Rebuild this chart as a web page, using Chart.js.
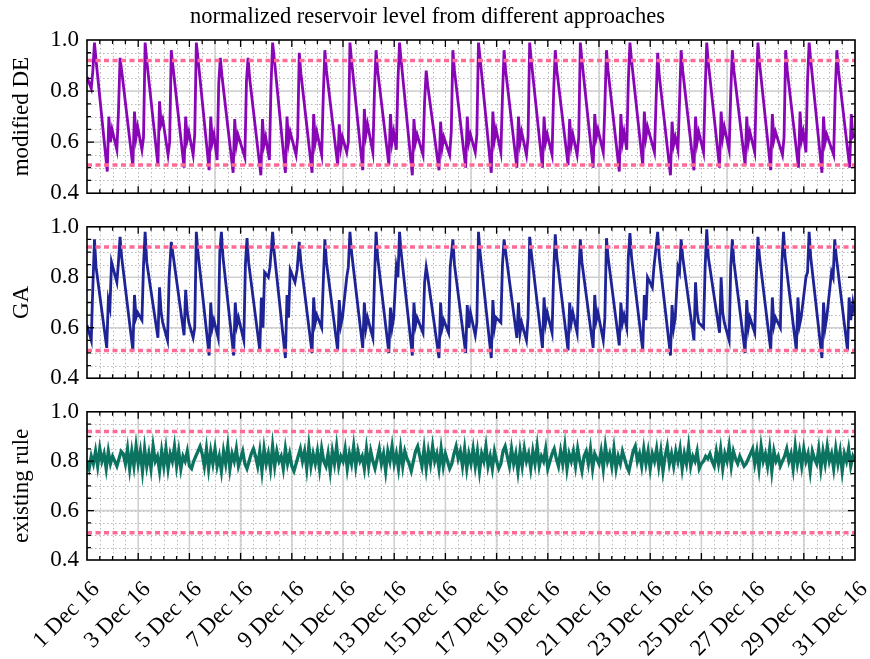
<!DOCTYPE html>
<html>
<head>
<meta charset="utf-8">
<script src="https://cdn.jsdelivr.net/npm/chart.js@4.4.1/dist/chart.umd.min.js"></script>
<style>
  html, body { margin: 0; padding: 0; background: #fff; }
  #wrap { position: relative; width: 870px; height: 659px; }
  .panel { position: absolute; left: 0; width: 870px; }
</style>
</head>
<body>
<div id="wrap">
  <div class="panel" style="top:0;height:215px"><canvas id="c1"></canvas></div>
  <div class="panel" style="top:205px;height:195px"><canvas id="c2"></canvas></div>
  <div class="panel" style="top:390px;height:269px"><canvas id="c3"></canvas></div>
</div>
<script>
// hours since 1 Dec 16 00:00, normalized level
let deHours = [
  0, 4, 5.5, 7, 8.5, 19, 20.5, 22, 23.5,
  28, 29.5, 31, 32.5, 43, 44.5, 46, 47.5,
  51.5, 53, 54.5, 56, 66.5, 68, 69.5, 71,
  76, 77.5, 79, 80.5, 91, 92.5, 94, 95.5,
  99.5, 101, 102.5, 104, 114.5, 116, 117.5, 119,
  122, 123.5, 125, 126.5, 137, 138.5, 140, 141.5,
  148, 149.5, 151, 152.5, 163, 164.5, 166, 167.5,
  171, 172.5, 174, 175.5, 186, 187.5, 189, 190.5,
  196, 197.5, 199, 200.5, 211, 212.5, 214, 215.5,
  220, 221.5, 223, 224.5, 235, 236.5, 238, 239.5,
  243.5, 245, 246.5, 248, 258.5, 260, 261.5, 263,
  268, 269.5, 271, 272.5, 283, 284.5, 286, 287.5,
  290, 291.5, 293, 294.5, 305, 306.5, 308, 309.5,
  315, 316.5, 318, 319.5, 330, 331.5, 333, 334.5,
  340, 341.5, 343, 344.5, 355, 356.5, 358, 359.5,
  364, 365.5, 367, 368.5, 379, 380.5, 382, 383.5,
  388, 389.5, 391, 392.5, 403, 404.5, 406, 407.5,
  412, 413.5, 415, 416.5, 427, 428.5, 430, 431.5,
  436, 437.5, 439, 440.5, 451, 452.5, 454, 455.5,
  459.5, 461, 462.5, 464, 474.5, 476, 477.5, 479,
  484, 485.5, 487, 488.5, 499, 500.5, 502, 503.5,
  506, 507.5, 509, 510.5, 521, 522.5, 524, 525.5,
  532, 533.5, 535, 536.5, 547, 548.5, 550, 551.5,
  554, 555.5, 557, 558.5, 569, 570.5, 572, 573.5,
  578, 579.5, 581, 582.5, 593, 594.5, 596, 597.5,
  602, 603.5, 605, 606.5, 617, 618.5, 620, 621.5,
  626, 627.5, 629, 630.5, 641, 642.5, 644, 645.5,
  652, 653.5, 655, 656.5, 667, 668.5, 670, 671.5,
  674, 675.5, 677, 678.5, 689, 690.5, 692, 693.5,
  700, 701.5, 703, 704.5, 715, 716.5, 718, 720
];
let deLevel = [
  0.855, 0.81, 0.88, 0.99, 0.92, 0.485, 0.70, 0.60, 0.65,
  0.57, 0.72, 0.93, 0.88, 0.505, 0.72, 0.62, 0.66,
  0.57, 0.62, 0.99, 0.92, 0.51, 0.76, 0.67, 0.69,
  0.55, 0.60, 0.96, 0.90, 0.50, 0.70, 0.61, 0.64,
  0.55, 0.63, 0.99, 0.93, 0.49, 0.70, 0.60, 0.63,
  0.53, 0.83, 0.93, 0.86, 0.48, 0.69, 0.59, 0.63,
  0.54, 0.84, 0.93, 0.85, 0.47, 0.69, 0.59, 0.62,
  0.53, 0.82, 0.99, 0.93, 0.48, 0.70, 0.60, 0.64,
  0.55, 0.62, 0.95, 0.87, 0.48, 0.71, 0.60, 0.64,
  0.55, 0.78, 0.96, 0.88, 0.51, 0.67, 0.58, 0.62,
  0.56, 0.60, 0.99, 0.92, 0.49, 0.73, 0.63, 0.67,
  0.56, 0.80, 0.96, 0.88, 0.51, 0.71, 0.60, 0.64,
  0.57, 0.84, 0.99, 0.92, 0.47, 0.69, 0.60, 0.63,
  0.55, 0.76, 0.88, 0.82, 0.49, 0.68, 0.58, 0.62,
  0.55, 0.64, 0.96, 0.88, 0.50, 0.70, 0.60, 0.63,
  0.56, 0.63, 0.99, 0.93, 0.48, 0.72, 0.61, 0.65,
  0.56, 0.78, 0.96, 0.88, 0.50, 0.70, 0.60, 0.64,
  0.55, 0.62, 0.99, 0.92, 0.50, 0.70, 0.60, 0.63,
  0.55, 0.80, 0.96, 0.88, 0.51, 0.69, 0.59, 0.63,
  0.55, 0.62, 0.99, 0.92, 0.50, 0.71, 0.62, 0.65,
  0.56, 0.74, 0.96, 0.88, 0.485, 0.71, 0.60, 0.64,
  0.57, 0.84, 0.99, 0.92, 0.51, 0.72, 0.62, 0.66,
  0.56, 0.76, 0.95, 0.86, 0.47, 0.68, 0.59, 0.62,
  0.57, 0.76, 0.96, 0.88, 0.49, 0.70, 0.60, 0.64,
  0.56, 0.80, 0.99, 0.91, 0.50, 0.72, 0.62, 0.66,
  0.57, 0.79, 0.96, 0.88, 0.51, 0.70, 0.60, 0.64,
  0.56, 0.82, 0.99, 0.91, 0.49, 0.71, 0.61, 0.64,
  0.55, 0.62, 0.96, 0.88, 0.50, 0.72, 0.61, 0.64,
  0.56, 0.84, 0.99, 0.92, 0.48, 0.70, 0.60, 0.63,
  0.55, 0.80, 0.96, 0.88, 0.50, 0.71, 0.62, 0.63
];

let gaHours = [
  0, 4, 5, 7, 8.5, 18.5, 20, 21.5, 23,
  28, 29.5, 31, 32.5, 43, 44.5, 46, 47.5,
  51.5, 53, 54.5, 56, 66.5, 68, 69.5, 71,
  75.5, 77, 79, 81, 91, 92.5, 94, 95.5,
  99.5, 101, 102.5, 104, 114.5, 116, 117.5, 119,
  123, 124.5, 126, 127.5, 137.5, 139, 140.5, 142,
  147, 148.5, 150, 151.5, 162, 163.5, 165, 166.5,
  170, 171.5, 174, 175.5, 186, 187.5, 189, 190.5,
  195, 197, 199, 200.5, 211, 212.5, 214, 215.5,
  220, 221.5, 223, 224.5, 235, 236.5, 238, 239.5,
  243.5, 245, 246.5, 248, 258.5, 260, 261.5, 263,
  268, 269.5, 271, 272.5, 283, 284.5, 286, 287.5,
  290, 291.5, 293, 294.5, 305, 306.5, 308, 309.5,
  315, 316.5, 318, 319.5, 330, 331.5, 333, 334.5,
  339, 340.5, 343, 344.5, 355, 356.5, 358, 359.5,
  364, 365.5, 367, 368.5, 379, 380.5, 382, 383.5,
  388, 389.5, 391, 392.5, 403, 404.5, 406, 407.5,
  412, 413.5, 415, 416.5, 427, 428.5, 430, 431.5,
  436, 437.5, 439, 440.5, 451, 452.5, 454, 455.5,
  459.5, 461, 462.5, 464, 474.5, 476, 477.5, 479,
  484, 485.5, 487, 488.5, 499, 500.5, 502, 503.5,
  506, 507.5, 509, 510.5, 521, 522.5, 524, 525.5,
  530, 531.5, 535, 536.5, 547, 548.5, 550, 551.5,
  554, 555.5, 557, 558.5, 569, 570.5, 572, 573.5,
  578, 579.5, 581, 582.5, 593, 594.5, 596, 597.5,
  602, 603.5, 605, 606.5, 617, 618.5, 620, 621.5,
  626, 627.5, 629, 630.5, 641, 642.5, 644, 645.5,
  650, 651.5, 653, 654.5, 665, 666.5, 668, 669.5,
  674, 675.5, 677, 678.5, 689, 690.5, 692, 693.5,
  698, 699.5, 701, 702.5, 713, 714.5, 716, 718, 720
];
let gaLevel = [
  0.61, 0.55, 0.70, 0.95, 0.84, 0.52, 0.71, 0.68, 0.86,
  0.78, 0.86, 0.96, 0.88, 0.51, 0.73, 0.64, 0.66,
  0.63, 0.85, 0.98, 0.86, 0.56, 0.76, 0.66, 0.62,
  0.55, 0.80, 0.94, 0.88, 0.57, 0.75, 0.66, 0.62,
  0.56, 0.60, 0.98, 0.90, 0.49, 0.70, 0.60, 0.63,
  0.56, 0.90, 0.98, 0.88, 0.49, 0.70, 0.61, 0.64,
  0.55, 0.85, 0.955, 0.86, 0.51, 0.72, 0.60, 0.82,
  0.80, 0.84, 0.98, 0.90, 0.48, 0.73, 0.64, 0.83,
  0.78, 0.83, 0.94, 0.86, 0.50, 0.72, 0.62, 0.65,
  0.60, 0.78, 0.95, 0.86, 0.51, 0.71, 0.61, 0.64,
  0.80, 0.84, 0.98, 0.90, 0.52, 0.70, 0.60, 0.64,
  0.56, 0.79, 0.98, 0.88, 0.50, 0.68, 0.60, 0.64,
  0.84, 0.80, 0.98, 0.90, 0.49, 0.70, 0.61, 0.64,
  0.58, 0.78, 0.84, 0.80, 0.48, 0.70, 0.60, 0.63,
  0.58, 0.84, 0.95, 0.85, 0.50, 0.69, 0.60, 0.66,
  0.57, 0.62, 0.98, 0.90, 0.48, 0.71, 0.60, 0.64,
  0.62, 0.85, 0.95, 0.90, 0.56, 0.70, 0.58, 0.62,
  0.55, 0.64, 0.96, 0.90, 0.52, 0.72, 0.62, 0.66,
  0.58, 0.82, 0.97, 0.88, 0.51, 0.70, 0.62, 0.66,
  0.58, 0.80, 0.95, 0.86, 0.52, 0.73, 0.63, 0.66,
  0.55, 0.64, 0.955, 0.88, 0.53, 0.70, 0.62, 0.65,
  0.60, 0.88, 0.975, 0.88, 0.51, 0.73, 0.63, 0.80,
  0.76, 0.84, 0.98, 0.88, 0.49, 0.69, 0.60, 0.64,
  0.84, 0.82, 0.95, 0.88, 0.55, 0.78, 0.66, 0.62,
  0.60, 0.84, 0.99, 0.88, 0.58, 0.80, 0.66, 0.62,
  0.55, 0.84, 0.95, 0.86, 0.50, 0.71, 0.60, 0.64,
  0.58, 0.80, 0.96, 0.88, 0.51, 0.72, 0.61, 0.64,
  0.60, 0.86, 0.98, 0.88, 0.51, 0.72, 0.61, 0.64,
  0.80, 0.82, 0.98, 0.88, 0.48, 0.70, 0.60, 0.64,
  0.82, 0.80, 0.95, 0.88, 0.51, 0.72, 0.63, 0.70, 0.65
];

// existing rule, one value every 2 hours
let ruleStepHours = 2;
let ruleLevel = [
  0.80,0.77,0.82,0.79,0.84,0.78,0.85,0.80,0.83,0.77,0.84,0.79,
  0.82,0.80,0.78,0.81,0.84,0.83,0.79,0.85,0.77,0.84,0.78,0.86,
  0.79,0.84,0.76,0.85,0.78,0.83,0.77,0.86,0.80,0.82,0.76,0.84,
  0.78,0.85,0.77,0.83,0.80,0.86,0.78,0.84,0.77,0.82,0.80,0.84,
  0.78,0.77,0.80,0.82,0.84,0.86,0.83,0.78,0.85,0.77,0.84,0.79,
  0.85,0.78,0.82,0.76,0.84,0.79,0.86,0.77,0.83,0.80,0.85,0.78,
  0.81,0.84,0.79,0.77,0.80,0.83,0.85,0.82,0.78,0.84,0.76,0.85,
  0.79,0.83,0.77,0.86,0.78,0.84,0.80,0.82,0.77,0.85,0.79,0.83,
  0.78,0.76,0.79,0.82,0.85,0.80,0.84,0.77,0.86,0.78,0.83,0.79,
  0.84,0.77,0.85,0.80,0.78,0.83,0.76,0.84,0.79,0.86,0.78,0.82,
  0.80,0.85,0.77,0.83,0.79,0.86,0.78,0.84,0.80,0.82,0.77,0.85,
  0.78,0.84,0.80,0.77,0.81,0.85,0.79,0.83,0.76,0.84,0.80,0.86,
  0.79,0.83,0.77,0.85,0.78,0.84,0.81,0.79,0.76,0.80,0.84,0.86,
  0.82,0.78,0.85,0.77,0.84,0.79,0.86,0.80,0.83,0.77,0.85,0.78,
  0.83,0.80,0.77,0.79,0.83,0.86,0.81,0.84,0.78,0.85,0.77,0.83,
  0.79,0.85,0.78,0.84,0.76,0.83,0.80,0.86,0.78,0.82,0.77,0.84,
  0.80,0.77,0.79,0.84,0.86,0.82,0.78,0.85,0.79,0.83,0.76,0.84,
  0.78,0.85,0.80,0.83,0.77,0.84,0.79,0.86,0.78,0.82,0.80,0.85,
  0.77,0.80,0.83,0.85,0.81,0.78,0.84,0.79,0.86,0.77,0.83,0.80,
  0.84,0.78,0.85,0.80,0.76,0.82,0.84,0.79,0.85,0.77,0.83,0.81,
  0.79,0.84,0.77,0.86,0.80,0.83,0.78,0.85,0.77,0.82,0.79,0.84,
  0.81,0.78,0.76,0.80,0.84,0.86,0.80,0.83,0.78,0.85,0.79,0.84,
  0.77,0.83,0.80,0.85,0.78,0.84,0.76,0.82,0.86,0.79,0.83,0.78,
  0.84,0.80,0.85,0.77,0.83,0.79,0.86,0.78,0.82,0.80,0.84,0.77,
  0.79,0.80,0.82,0.81,0.83,0.80,0.78,0.84,0.79,0.85,0.77,0.83,
  0.80,0.86,0.78,0.84,0.81,0.79,0.82,0.80,0.78,0.79,0.81,0.83,
  0.85,0.79,0.84,0.77,0.86,0.80,0.83,0.78,0.85,0.76,0.84,0.80,
  0.82,0.78,0.80,0.82,0.85,0.80,0.83,0.77,0.86,0.79,0.84,0.78,
  0.85,0.80,0.83,0.76,0.84,0.81,0.79,0.85,0.77,0.84,0.79,0.86,
  0.80,0.83,0.77,0.85,0.79,0.84,0.76,0.83,0.80,0.85,0.78,0.82,
  0.80
];

let upperLimit = 0.92;
let lowerLimit = 0.51;
let labelHours = [0, 48, 96, 144, 192, 240, 288, 336, 384, 432, 480, 528, 576, 624, 672, 720];
let majorHoursTop = [120, 240, 360, 480, 600, 720];
let yTicks = [0.4, 0.6, 0.8, 1.0];

const serif = "'Liberation Serif', 'Times New Roman', serif";
const pink = '#ff6b96';

function pts(hours, vals) {
    return hours.map((h, i) => ({x: h, y: vals[i]}));
}

// grid lines and inward ticks, drawn from the chart's own scales
const framePlugin = {
    id: 'frame',
    beforeDatasetsDraw(chart, args, opts) {
        let {ctx, chartArea: a} = chart;
        let xs = chart.scales.x, ys = chart.scales.y;
        ctx.save();
        ctx.strokeStyle = '#b8b8b8';
        ctx.lineWidth = 1;
        ctx.setLineDash([1.5, 2.5]);
        for (let h = 12; h < 720; h += 12) {
            let px = Math.round(xs.getPixelForValue(h)) + 0.5;
            ctx.beginPath(); ctx.moveTo(px, a.top); ctx.lineTo(px, a.bottom); ctx.stroke();
        }
        for (let k = 1; k < 12; k++) {
            let py = Math.round(ys.getPixelForValue(0.4 + k * 0.05)) + 0.5;
            ctx.beginPath(); ctx.moveTo(a.left, py); ctx.lineTo(a.right, py); ctx.stroke();
        }
        ctx.setLineDash([]);
        ctx.strokeStyle = '#d0d0d0';
        ctx.lineWidth = 1.6;
        opts.majorX.forEach(h => {
            let px = xs.getPixelForValue(h);
            ctx.beginPath(); ctx.moveTo(px, a.top); ctx.lineTo(px, a.bottom); ctx.stroke();
        });
        [0.6, 0.8].forEach(v => {
            let py = ys.getPixelForValue(v);
            ctx.beginPath(); ctx.moveTo(a.left, py); ctx.lineTo(a.right, py); ctx.stroke();
        });
        ctx.restore();
    },
    afterDatasetsDraw(chart) {
        let {ctx, chartArea: a} = chart;
        let xs = chart.scales.x, ys = chart.scales.y;
        ctx.save();
        ctx.strokeStyle = '#000';
        ctx.lineWidth = 1.3;
        ctx.beginPath();
        for (let h = 12; h < 720; h += 12) {
            let px = xs.getPixelForValue(h);
            let len = h % 48 === 0 ? 7 : 4;
            ctx.moveTo(px, a.bottom); ctx.lineTo(px, a.bottom - len);
            ctx.moveTo(px, a.top); ctx.lineTo(px, a.top + len);
        }
        for (let k = 1; k < 12; k++) {
            let py = ys.getPixelForValue(0.4 + k * 0.05);
            let len = k % 4 === 0 ? 7 : 4;
            ctx.moveTo(a.left, py); ctx.lineTo(a.left + len, py);
            ctx.moveTo(a.right, py); ctx.lineTo(a.right - len, py);
        }
        ctx.stroke();
        ctx.lineWidth = 1.6;
        ctx.strokeRect(a.left, a.top, a.width, a.height);
        ctx.restore();
    }
};

function makePanel(id, cfg) {
    let datasets = [
        {data: [{x: 0, y: upperLimit}, {x: 720, y: upperLimit}], borderColor: pink, borderWidth: 3.5, borderDash: [5, 3.5], pointRadius: 0, order: 0},
        {data: [{x: 0, y: lowerLimit}, {x: 720, y: lowerLimit}], borderColor: pink, borderWidth: 3.5, borderDash: [5, 3.5], pointRadius: 0, order: 0},
        {data: cfg.points, borderColor: cfg.color, borderWidth: cfg.width, pointRadius: 0, tension: 0, order: 1}
    ];
    return new Chart(document.getElementById(id), {
        type: 'line',
        data: {datasets: datasets},
        plugins: [framePlugin],
        options: {
            responsive: true,
            maintainAspectRatio: false,
            animation: false,
            layout: {padding: cfg.padding},
            plugins: {
                legend: {display: false},
                tooltip: {enabled: false},
                title: cfg.title ? {
                    display: true, text: cfg.title, color: '#000',
                    font: {family: serif, size: 22.5, weight: 'normal'},
                    padding: {top: 4, bottom: 9}
                } : {display: false},
                frame: {majorX: cfg.majorX}
            },
            scales: {
                x: {
                    type: 'linear', min: 0, max: 720,
                    grid: {display: false, drawTicks: false},
                    border: {display: false},
                    afterBuildTicks: s => { s.ticks = labelHours.map(v => ({value: v})); },
                    ticks: cfg.showX ? {
                        autoSkip: false, maxRotation: 45, minRotation: 45, padding: 16, labelOffset: 9,
                        color: '#000', font: {family: serif, size: 23},
                        callback: v => (v / 24 + 1) + ' Dec 16'
                    } : {display: false},
                    afterFit: s => { s.height = cfg.xHeight; s.paddingLeft = 0; s.paddingRight = 0; }
                },
                y: {
                    min: 0.4, max: 1.0,
                    grid: {display: false, drawTicks: false},
                    border: {display: false},
                    afterBuildTicks: s => { s.ticks = yTicks.map(v => ({value: v})); },
                    ticks: {padding: 8, color: '#000', font: {family: serif, size: 23}, callback: v => v.toFixed(1)},
                    title: {display: true, text: cfg.yLabel, color: '#000', font: {family: serif, size: 23}, padding: {top: 8, bottom: 0}},
                    afterFit: s => { s.width = 87; }
                }
            }
        }
    });
}

makePanel('c1', {
    points: pts(deHours, deLevel), color: '#8806b6', width: 2.8, yLabel: 'modified DE',
    title: 'normalized reservoir level from different approaches',
    padding: {top: 0, bottom: 19, left: 0, right: 15}, xHeight: 0, showX: false, majorX: majorHoursTop
});
makePanel('c2', {
    points: pts(gaHours, gaLevel), color: '#1e2496', width: 2.8, yLabel: 'GA',
    padding: {top: 18, bottom: 20, left: 0, right: 15}, xHeight: 0, showX: false, majorX: majorHoursTop
});
makePanel('c3', {
    points: ruleLevel.map((v, i) => ({x: i * ruleStepHours, y: v})), color: '#0b7360', width: 3.3, yLabel: 'existing rule',
    padding: {top: 18, bottom: 0, left: 0, right: 15}, xHeight: 99, showX: true, majorX: labelHours
});
</script>
</body>
</html>
